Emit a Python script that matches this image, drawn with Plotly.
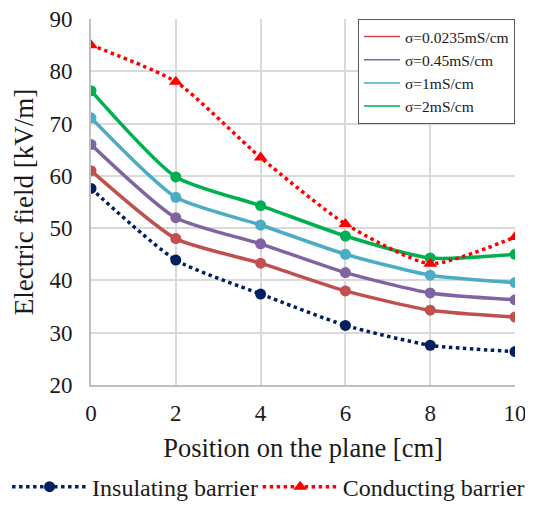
import plotly.graph_objects as go

positions = [0, 2, 4, 6, 8, 10]
sigma_labels = ["σ=0.0235mS/cm", "σ=0.45mS/cm", "σ=1mS/cm", "σ=2mS/cm"]
sigma_0_0235 = [61.0, 48.0, 43.3, 38.0, 34.3, 33.0]
sigma_0_45 = [66.0, 52.0, 47.0, 41.5, 37.6, 36.3]
sigma_1 = [71.1, 55.9, 50.6, 45.0, 41.0, 39.6]
sigma_2 = [76.3, 59.8, 54.3, 48.5, 44.3, 45.0]
insulating = [57.6, 43.9, 37.4, 31.4, 27.6, 26.4]
conducting = [85.0, 78.0, 63.5, 50.8, 43.2, 48.3]

FONT = "Liberation Serif"
TXT = "#1a1a1a"
fig = go.Figure()

sig_series = [sigma_0_0235, sigma_0_45, sigma_1, sigma_2]
sig_colors = ["#C0504D", "#8064A2", "#4BACC6", "#00B050"]
for lab, vals, col in zip(sigma_labels, sig_series, sig_colors):
    fig.add_trace(go.Scatter(x=positions, y=vals, name=lab, mode="lines+markers",
                             line=dict(color=col, width=3.5, shape="spline", smoothing=0.6),
                             marker=dict(size=11, color=col), showlegend=False))
for lab, col in zip(sigma_labels, sig_colors):
    fig.add_trace(go.Scatter(x=[None], y=[None], name=lab, mode="lines",
                             line=dict(color=col, width=1.5), legend="legend"))

fig.add_trace(go.Scatter(x=positions, y=insulating, name="Insulating barrier", mode="lines+markers",
                         line=dict(color="#002060", width=3.5, dash="3.5px,3.5px", shape="spline", smoothing=0.6),
                         marker=dict(size=11, color="#002060"), legend="legend2"))
fig.add_trace(go.Scatter(x=positions, y=conducting, name="Conducting barrier", mode="lines+markers",
                         line=dict(color="#FF0000", width=3.5, dash="3.5px,3.5px", shape="spline", smoothing=0.6),
                         marker=dict(size=12, color="#FF0000", symbol="triangle-up"), legend="legend3"))

bottom_leg = dict(orientation="h", y=-0.279, xanchor="left", yanchor="middle",
                  font=dict(family=FONT, size=24, color=TXT), bgcolor="rgba(0,0,0,0)",
                  itemwidth=75)
fig.update_layout(
    width=525, height=522,
    margin=dict(l=83, r=18, t=11, b=145, autoexpand=False),
    paper_bgcolor="white", plot_bgcolor="white",
    font=dict(family=FONT, size=23, color=TXT),
    legend=dict(x=1.0, y=1.0, xanchor="right", yanchor="top",
                bordercolor="#595959", borderwidth=1, bgcolor="white",
                font=dict(family=FONT, size=15.5, color=TXT),
                tracegroupgap=0, itemwidth=36),
    legend2=dict(bottom_leg, x=-0.198),
    legend3=dict(bottom_leg, x=0.393),
)
fig.update_xaxes(range=[0, 10], tickvals=positions, showgrid=True, gridcolor="#d9d9d9", gridwidth=1.5,
                 showline=True, linecolor="#bfbfbf", linewidth=2, zeroline=False, ticks="",
                 title=dict(text="Position on the plane [cm]", font=dict(size=26.5), standoff=14),
                 ticklabelstandoff=6, ticklabeloverflow="allow")
fig.update_yaxes(range=[20, 90], dtick=10, showgrid=True, gridcolor="#d9d9d9", gridwidth=1.5,
                 showline=True, linecolor="#bfbfbf", linewidth=2, zeroline=False, ticks="",
                 title=dict(text="Electric field [kV/m]", font=dict(size=27), standoff=8),
                 ticklabelstandoff=12, ticklabeloverflow="allow")

fig.write_html("out.html")
